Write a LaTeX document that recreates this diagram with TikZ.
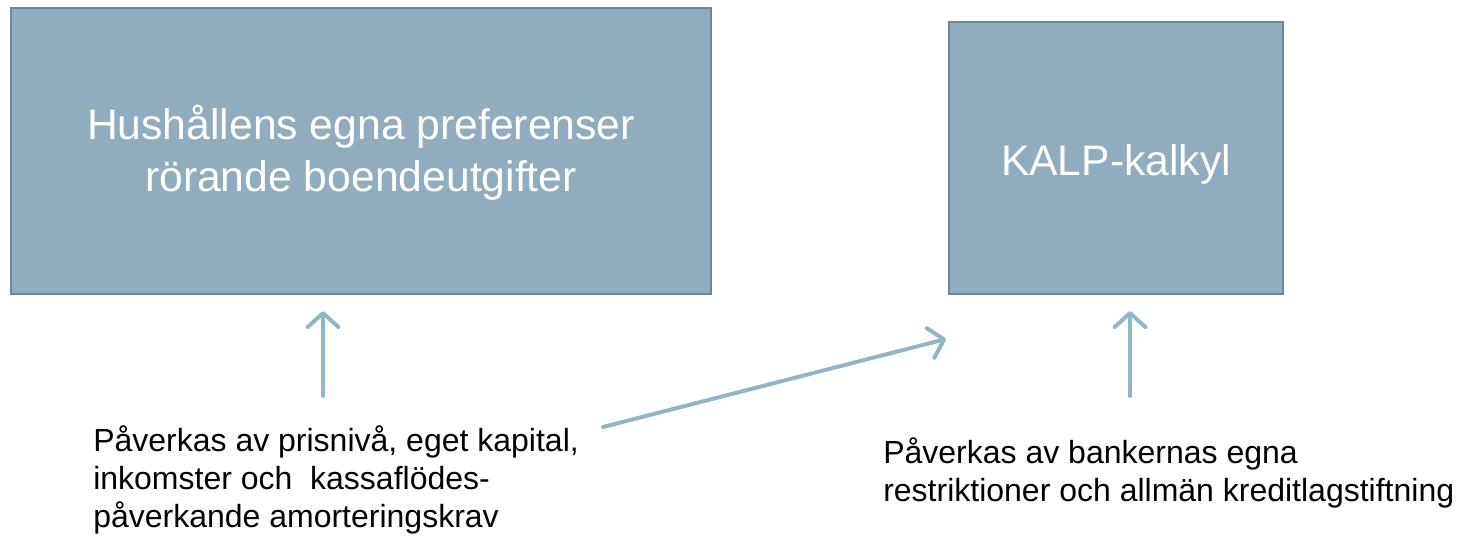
\documentclass[tikz,border=0pt]{standalone}
\usepackage{fontspec}
\setmainfont{Liberation Sans}
\usetikzlibrary{arrows.meta}
\definecolor{boxfill}{HTML}{8FADBF}
\definecolor{boxline}{HTML}{6D8795}
\definecolor{arrowc}{HTML}{94B4C6}
\tikzset{
  boxnode/.style={draw=boxline, line width=1.5pt, fill=boxfill, text=white, align=center,
    font=\fontsize{32}{39}\selectfont, inner sep=0pt},
  labelnode/.style={align=left, font=\fontsize{24}{28.2}\selectfont, inner sep=0pt, text=black},
  conn/.style={draw=arrowc, line width=3pt, line cap=round,
    -{Straight Barb[length=10.5pt, width=23pt, line width=3pt, round]}}
}
\begin{document}
\begin{tikzpicture}[x=0.75pt, y=-0.75pt]
\useasboundingbox (0,0) rectangle (1459,536);
\node[boxnode, text height=60.75pt, text depth=0pt, minimum width=700*0.75pt, minimum height=286*0.75pt] (hh) at (361,151)
  {Hushållens egna preferenser\\rörande boendeutgifter};
\node[boxnode, text height=25.5pt, text depth=0pt, minimum width=334*0.75pt, minimum height=272*0.75pt] (kalp) at (1116,158)
  {KALP-kalkyl};
\node[labelnode, anchor=base west] (t1) at (93,527)
  {Påverkas av prisnivå, eget kapital,\\inkomster och \ kassaflödes-\\påverkande amorteringskrav};
\node[labelnode, anchor=base west] (t2) at (883,501)
  {Påverkas av bankernas egna\\restriktioner och allmän kreditlagstiftning};
\coordinate (a1s) at (323,396);
\coordinate (a1e) at (323,311);
\coordinate (a2s) at (603,427);
\coordinate (a2e) at (946,339);
\coordinate (a3s) at (1130,396);
\coordinate (a3e) at (1130,311);
\draw[conn] (a1s) -- (a1e);
\draw[conn] (a2s) -- (a2e);
\draw[conn] (a3s) -- (a3e);
\end{tikzpicture}
\end{document}
